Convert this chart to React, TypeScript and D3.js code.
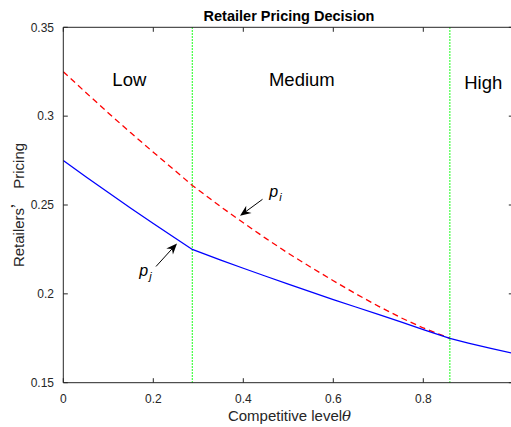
import React from 'react';
import * as d3 from 'd3';

// competitive level theta and the two pricing curves
const thetaJ = [0, 0.05, 0.1, 0.15, 0.2, 0.25, 0.2867, 0.35, 0.4, 0.45, 0.5, 0.55, 0.6, 0.65, 0.7, 0.75, 0.8, 0.859, 0.9, 0.95, 1.0];
const priceJ = [0.275, 0.2659, 0.257, 0.2482, 0.2396, 0.2311, 0.225, 0.219, 0.2144, 0.2099, 0.2055, 0.2011, 0.1968, 0.1926, 0.1885, 0.1842, 0.1799, 0.175, 0.1723, 0.1693, 0.1665];
const thetaI = [0, 0.05, 0.1, 0.15, 0.2, 0.25, 0.2867, 0.35, 0.4, 0.45, 0.5, 0.55, 0.6, 0.65, 0.7, 0.75, 0.8, 0.859];
const priceI = [0.325, 0.3133, 0.3018, 0.2906, 0.2797, 0.269, 0.261, 0.249, 0.24, 0.2312, 0.2228, 0.215, 0.2074, 0.2, 0.1931, 0.1866, 0.1808, 0.175];

const boundaries = [0.2867, 0.859];
const regionNames = ['Low', 'Medium', 'High'];
const regionX = [0.109, 0.457, 0.891];
const regionY = [0.317, 0.317, 0.3155];

const xTicks = [0, 0.2, 0.4, 0.6, 0.8, 1];
const yTicks = [0.15, 0.2, 0.25, 0.3, 0.35];

const width = 511;
const height = 427;
const marginLeft = 63.3;
const marginTop = 27.3;
const plotRight = 513.3;
const plotBottom = 382.7;

const font = '"Liberation Sans", Arial, sans-serif';
const axisColor = '#262626';

export default function App() {
  const x = d3.scaleLinear().domain([0, 1]).range([marginLeft, plotRight]);
  const y = d3.scaleLinear().domain([0.15, 0.35]).range([plotBottom, marginTop]);
  const line = d3.line<[number, number]>().x(d => x(d[0])).y(d => y(d[1]));

  const lineJ = line(thetaJ.map((t, i) => [t, priceJ[i]]));
  const lineI = line(thetaI.map((t, i) => [t, priceI[i]]));

  // arrows: [tailX, tailY, tipX, tipY] in data units
  const arrows = [
    [0.4427, 0.2532, 0.3927, 0.2439],
    [0.206, 0.2154, 0.2527, 0.2284],
  ];

  const arrowHead = (a: number[]) => {
    const x0 = x(a[0]), y0 = y(a[1]), x1 = x(a[2]), y1 = y(a[3]);
    const ang = Math.atan2(y1 - y0, x1 - x0);
    const len = 11, half = 4.5, back = 7.5;
    const bx = x1 - len * Math.cos(ang), by = y1 - len * Math.sin(ang);
    const nx = -Math.sin(ang), ny = Math.cos(ang);
    const mx = x1 - back * Math.cos(ang), my = y1 - back * Math.sin(ang);
    return {
      line: `M${x0},${y0}L${mx},${my}`,
      head: `M${x1},${y1}L${bx + nx * half},${by + ny * half}L${mx},${my}L${bx - nx * half},${by - ny * half}Z`,
    };
  };

  return (
    <svg width={width} height={height} style={{ position: 'absolute', left: 0, top: 0, background: '#fff' }}>
      <rect width={width} height={height} fill="#fff" />
      {/* region boundaries */}
      {boundaries.map(b => (
        <line key={b} x1={x(b)} x2={x(b)} y1={marginTop} y2={plotBottom} stroke="#00ff00" strokeWidth={1.2} strokeDasharray="1.5,1.5" />
      ))}
      <path d={lineI ?? ''} fill="none" stroke="#ff0000" strokeWidth={1.3} strokeDasharray="6,4" />
      <path d={lineJ ?? ''} fill="none" stroke="#0000ff" strokeWidth={1.3} />

      {/* axes box */}
      <g stroke={axisColor} strokeWidth={1} fill="none">
        <path d={`M${marginLeft},${marginTop}H${plotRight}V${plotBottom}H${marginLeft}Z`} />
        {xTicks.map(t => (
          <g key={t}>
            <line x1={x(t)} x2={x(t)} y1={plotBottom} y2={plotBottom - 4.5} />
            <line x1={x(t)} x2={x(t)} y1={marginTop} y2={marginTop + 4.5} />
          </g>
        ))}
        {yTicks.map(t => (
          <g key={t}>
            <line x1={marginLeft} x2={marginLeft + 4.5} y1={y(t)} y2={y(t)} />
            <line x1={plotRight} x2={plotRight - 4.5} y1={y(t)} y2={y(t)} />
          </g>
        ))}
      </g>

      <g fontFamily={font} fontSize={12} fill={axisColor}>
        {xTicks.filter(t => x(t) < width - 10).map(t => (
          <text key={t} x={x(t)} y={403} textAnchor="middle">{String(t)}</text>
        ))}
        {yTicks.map(t => (
          <text key={t} x={54} y={y(t) + 4.3} textAnchor="end">{String(t)}</text>
        ))}
      </g>

      <text x={289} y={20.5} textAnchor="middle" fontFamily={font} fontSize={14.5} fontWeight="bold" fill="#000">
        Retailer Pricing Decision
      </text>
      <text x={289.5} y={421} textAnchor="middle" fontFamily={font} fontSize={15} fill={axisColor}>
        Competitive level<tspan fontStyle="italic" fontFamily='"DejaVu Serif", serif'>θ</tspan>
      </text>
      <text transform={`translate(23.5,${(marginTop + plotBottom) / 2}) rotate(-90)`} textAnchor="middle" fontFamily={font} fontSize={15} fill={axisColor}>
        Retailers<tspan fontFamily='"Noto Sans CJK SC", sans-serif'>’</tspan> Pricing
      </text>

      {regionNames.map((n, i) => (
        <text key={n} x={x(regionX[i])} y={y(regionY[i])} fontFamily={font} fontSize={18.5} fill="#000">{n}</text>
      ))}

      {arrows.map((a, i) => {
        const h = arrowHead(a);
        return (
          <g key={i}>
            <path d={h.line} stroke="#000" strokeWidth={1} />
            <path d={h.head} fill="#000" />
          </g>
        );
      })}
      <g fontFamily={font} fill="#000">
        <text x={x(0.4578)} y={y(0.2545)} fontSize={16} fontStyle="italic">p<tspan fontSize={11} dx={1} dy={4}>i</tspan></text>
        <text x={x(0.1689)} y={y(0.2098)} fontSize={16} fontStyle="italic">p<tspan fontSize={11} dx={1} dy={4}>j</tspan></text>
      </g>
    </svg>
  );
}
